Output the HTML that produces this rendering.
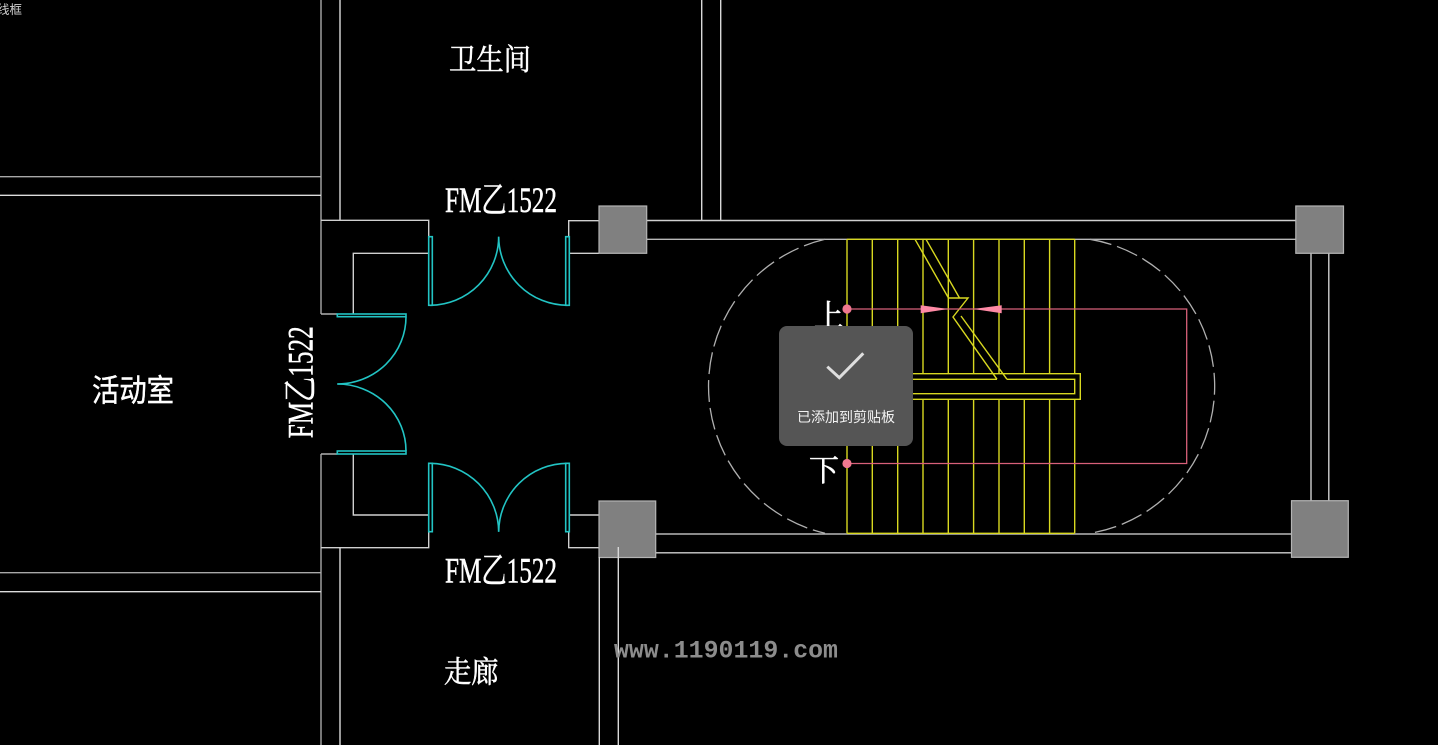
<!DOCTYPE html>
<html>
<head>
<meta charset="utf-8">
<style>
  html,body{margin:0;padding:0;background:#000;}
  body{width:1438px;height:745px;overflow:hidden;}
  svg{display:block;}
</style>
</head>
<body>
<svg width="1438" height="745" viewBox="0 0 1438 745" xmlns="http://www.w3.org/2000/svg">
  <rect x="0" y="0" width="1438" height="745" fill="#000"/>

  <!-- top-left partial label -->
  <text x="-3" y="14" font-family="'Liberation Sans','Noto Sans CJK SC',sans-serif" font-size="12.5" fill="#d0d0d0">线框</text>

  <!-- left structure lines -->
  <g fill="none" stroke-width="1.4">
    <path d="M321,0 V314 M321,454 V745" stroke="#a8a8a8"/>
    <path d="M340,0 V220.3 M340,548 V745" stroke="#dcdcdc"/>
    <path d="M0,176.7 H321" stroke="#a8a8a8"/>
    <path d="M0,195.3 H321" stroke="#dcdcdc"/>
    <path d="M0,572.7 H321" stroke="#a8a8a8"/>
    <path d="M0,591.7 H321" stroke="#dcdcdc"/>
    <path d="M321,220.3 H428.7 V236.7" stroke="#d0d0d0"/>
    <path d="M353.3,314 V253.3 H428.7" stroke="#d0d0d0"/>
    <path d="M321,314 H337.3 M321,454 H337.3" stroke="#b0b0b0"/>
    <path d="M353.3,454 V515 H428.7" stroke="#d0d0d0"/>
    <path d="M321,547.7 H428.7 V531.7" stroke="#d0d0d0"/>
    <!-- right of doors -->
    <path d="M599,220.7 H568.7 V236.7 M599,253.3 H568.7" stroke="#d0d0d0"/>
    <path d="M599,515 H568.7 M599,547.7 H568.7 V531.7" stroke="#d0d0d0"/>
    <!-- top vertical lines -->
    <path d="M701.7,0 V220.3 M720.7,0 V220.3" stroke="#d8d8d8"/>
    <!-- top walls -->
    <path d="M646.7,220.5 H1295.8" stroke="#d0d0d0"/>
    <path d="M646.7,239.3 H1295.8" stroke="#b8b8b8"/>
    <!-- bottom walls -->
    <path d="M655.3,534 H1291.5" stroke="#b8b8b8"/>
    <path d="M655.3,552.8 H1291.5" stroke="#d0d0d0"/>
    <!-- right walls -->
    <path d="M1311,253.3 V500.7 M1328.8,253.3 V500.7" stroke="#d0d0d0"/>
  </g>

  <!-- columns -->
  <g fill="#808080" stroke="#b4b4b4" stroke-width="1.2">
    <rect x="599" y="206" width="47.7" height="47.3"/>
    <rect x="1295.8" y="206" width="47.7" height="47.3"/>
    <rect x="599" y="501" width="56.7" height="56.5"/>
    <rect x="1291.5" y="500.7" width="56.8" height="56.6"/>
  </g>
  <path d="M618.3,547 V745 M599.3,557 V745" stroke="#d8d8d8" stroke-width="1.4" fill="none"/>

  <!-- doors (cyan) -->
  <g fill="none" stroke="#22c4c4" stroke-width="1.6">
    <rect x="428.7" y="236.7" width="3.6" height="68.6"/>
    <rect x="565.7" y="236.7" width="3.6" height="68.6"/>
    <path d="M430.5,305.3 A69 69 0 0 0 498.7,236.7"/>
    <path d="M567.5,305.3 A69 69 0 0 1 498.7,236.7"/>
    <rect x="428.7" y="463.3" width="3.6" height="68.4"/>
    <rect x="565.7" y="463.3" width="3.6" height="68.4"/>
    <path d="M430.5,463.3 A69 69 0 0 1 498.7,531.7"/>
    <path d="M567.5,463.3 A69 69 0 0 0 498.7,531.7"/>
    <rect x="337.3" y="314" width="68.7" height="2.7"/>
    <rect x="337.3" y="451" width="68.7" height="3"/>
    <path d="M406,316.7 A68.7 67.3 0 0 1 337.3,384"/>
    <path d="M337.3,384 A68.7 67 0 0 1 406,451"/>
  </g>

  <!-- dashed circle arcs -->
  <g fill="none" stroke="#b0b0b0" stroke-width="1.3" stroke-dasharray="22 6">
    <path d="M825,239.3 A151 151 0 0 0 825,533.3"/>
    <path d="M1090,239.3 A149 149 0 0 1 1090,533.3"/>
  </g>

  <!-- stairs (yellow) -->
  <g fill="none" stroke="#d8d820" stroke-width="1.4">
    <path d="M847,239.3 H1074.7 M847,533.3 H1074.7"/>
    <path d="M847,239.3 V373.7 M872.3,239.3 V373.7 M897.7,239.3 V373.7 M923,239.3 V373.7 M948.3,239.3 V373.7 M973.6,239.3 V373.7 M999,239.3 V373.7 M1024.3,239.3 V373.7 M1049.6,239.3 V373.7 M1074.7,239.3 V373.7"/>
    <path d="M847,399.3 V533.3 M872.3,399.3 V533.3 M897.7,399.3 V533.3 M923,399.3 V533.3 M948.3,399.3 V533.3 M973.6,399.3 V533.3 M999,399.3 V533.3 M1024.3,399.3 V533.3 M1049.6,399.3 V533.3 M1074.7,399.3 V533.3"/>
  </g>
  <!-- landing / handrail -->
  <rect x="847" y="374.5" width="233" height="24" fill="#000"/>
  <g fill="none" stroke="#d8d820" stroke-width="1.4">
    <path d="M847,373.7 H1080.3 V399.3 H847"/>
    <path d="M847,379.3 H997 M1007,379.3 H1074.7 V393.7 H847"/>
    <!-- diagonal break line -->
    <path d="M915,239.3 L948.5,298 L968,298 L953,317 L997,379.3"/>
    <path d="M926,239.3 L959.5,298"/>
    <path d="M961,316 L1007,379.3"/>
  </g>

  <!-- pink path -->
  <path d="M847,309 H1186.7 V463.5 H847" fill="none" stroke="#d8607a" stroke-width="1.3"/>
  <circle cx="847" cy="309" r="4.6" fill="#f07890"/>
  <circle cx="847" cy="463.5" r="4.6" fill="#f07890"/>
  <polygon points="920.7,305.3 920.7,313.3 948.3,309" fill="#ff8aa5"/>
  <polygon points="1001.7,305.3 1001.7,313.3 973.3,309" fill="#ff8aa5"/>

  <!-- labels -->
  <g fill="#ffffff" stroke="#ffffff" stroke-width="0.5" font-family="'Liberation Serif','Noto Serif CJK SC',serif">
    <text x="449" y="70" font-size="30" textLength="82" lengthAdjust="spacingAndGlyphs">卫生间</text>
    <text x="445" y="212" font-size="36" textLength="112" lengthAdjust="spacingAndGlyphs">FM乙1522</text>
    <text x="445" y="582.3" font-size="36" textLength="112" lengthAdjust="spacingAndGlyphs">FM乙1522</text>
    <text transform="translate(312.3,438.3) rotate(-90)" x="0" y="0" font-size="36" textLength="112" lengthAdjust="spacingAndGlyphs">FM乙1522</text>
    <text x="444" y="682.5" font-size="30" textLength="54.5" lengthAdjust="spacingAndGlyphs">走廊</text>
    <text x="814" y="326" font-size="30">上</text>
    <text x="809" y="481" font-size="30">下</text>
  </g>
  <text x="92" y="401.5" fill="#ffffff" stroke="#ffffff" stroke-width="0.4" font-family="'Liberation Sans','Noto Sans CJK SC',sans-serif" font-size="31" textLength="82" lengthAdjust="spacingAndGlyphs">活动室</text>

  <!-- watermark -->
  <text x="614" y="657.3" fill="#8c8c8c" font-family="'Liberation Mono',monospace" font-weight="bold" font-size="25" textLength="224" lengthAdjust="spacingAndGlyphs">www.1190119.com</text>

  <!-- toast -->
  <rect x="779" y="326" width="134" height="120" rx="8" ry="8" fill="#555555"/>
  <polyline points="827.3,366.7 839.3,377.7 863.3,353.3" fill="none" stroke="#dedede" stroke-width="3"/>
  <text x="846" y="422" text-anchor="middle" fill="#f2f2f2" font-family="'Liberation Sans','Noto Sans CJK SC',sans-serif" font-size="14">已添加到剪贴板</text>
</svg>
</body>
</html>
